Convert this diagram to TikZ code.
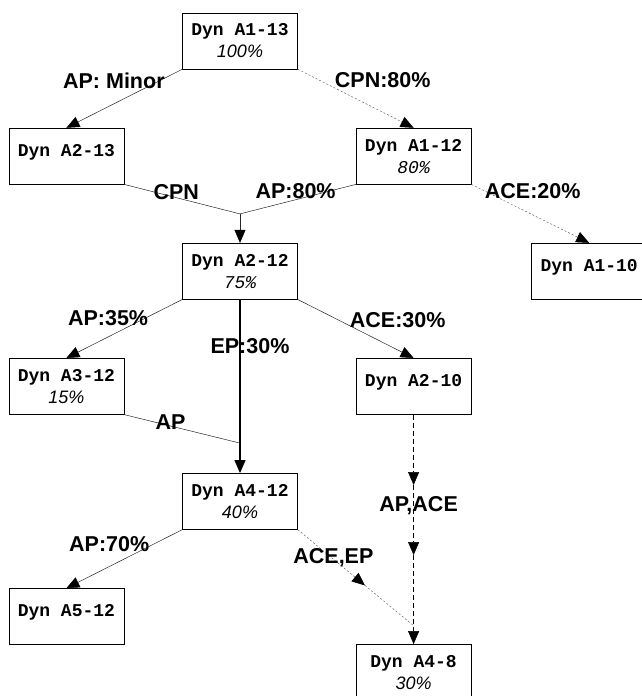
\documentclass[tikz,border=0pt]{standalone}
\usepackage{fontspec}
\setmainfont{Liberation Sans}
\setmonofont{Liberation Mono}
\usetikzlibrary{arrows.meta,positioning}

\newcommand{\share}[1]{{\normalfont\itshape #1}}
\newcommand{\sharett}[1]{{\mdseries\itshape #1}}

\begin{document}
\begin{tikzpicture}[
  node distance=58.5pt and 58pt,
  box/.style={
    draw,
    line width=0.6pt,
    align=center,
    minimum width=115pt,
    minimum height=56pt,
    inner sep=2pt,
    font=\ttfamily\bfseries\fontsize{18pt}{22pt}\selectfont
  },
  onebox/.style={box, text depth=12pt},
  tag/.style={text=black, font=\bfseries\fontsize{21.5pt}{24pt}\selectfont, inner sep=0pt},
  line/.style={-{Triangle[length=13pt,width=11pt,color=black]}, line width=0.5pt, black!85},
  fline/.style={line, dash pattern=on 2pt off 2pt, black!60},
  eline/.style={line, line width=1.2pt, black},
  dline/.style={line, dash pattern=on 5pt off 3pt, black}
]
\useasboundingbox (0,0) rectangle (642pt,-696pt);

% Dynorphin fragments
\node[box] (a113) at (240pt,-41pt) {Dyn A1-13\\\share{100\%}};

\node[onebox,below left=of a113] (a213) {Dyn A2-13};

\node[box,below right=of a113] (a112) {Dyn A1-12\\\sharett{80\%}};

\node[box,below right=of a213] (a212) {Dyn A2-12\\\sharett{75\%}};

\node[onebox,below right=58.5pt and 60pt of a112] (a110) {Dyn A1-10};

\node[box,below left=of a212] (a312) {Dyn A3-12\\\share{15\%}};

\node[onebox,below right=of a212] (a210) {Dyn A2-10};

\node[box,below right=of a312] (a412) {Dyn A4-12\\\share{40\%}};

\node[onebox,below left=of a412] (a512) {Dyn A5-12};

\node[box,below=229.5pt of a210] (a48) {Dyn A4-8\\\share{30\%}};

% Junction points
\coordinate (join1) at ([yshift=29pt]a212.north);
\coordinate (join2) at ([yshift=30pt]a412.north);
\path (a210) -- coordinate[pos=.307] (d1) coordinate[pos=.612] (d2) coordinate[pos=.92] (d3) (a48);
\path (a412.south east) -- coordinate[pos=.58] (e1) (d3);

% Cleavage steps
\draw[line] (a113.south west) -- node[tag,pos=.59,yshift=23.5pt] {AP: Minor} (a213.north);
\draw[fline] (a113.south east) -- node[tag,pos=.5,xshift=27pt,yshift=18pt] {CPN:80\%} (a112.north);
\draw[line,-] (a213.south east) -- node[tag,pos=.45,yshift=6pt] {CPN} (join1);
\draw[line,-] (a112.south west) -- node[tag,pos=.52,yshift=9pt] {AP:80\%} (join1);
\draw[line] (join1) -- (a212);
\draw[fline] (a112.south east) -- node[tag,pos=.52,yshift=24pt] {ACE:20\%} (a110.north);

\draw[line] (a212.south west) -- node[tag,pos=.64,yshift=18.5pt] {AP:35\%} (a312.north);
\draw[line] (a212.south east) -- node[tag,pos=.5,xshift=42pt,yshift=9pt] {ACE:30\%} (a210.north);
\draw[eline] (a212) -- node[tag,pos=.27,xshift=10pt] {EP:30\%} (a412);
\draw[line,-] (a312.south east) -- node[tag,pos=.4,yshift=4pt] {AP} (join2);

\draw[line] (a412.south west) -- node[tag,pos=.63,yshift=22pt] {AP:70\%} (a512.north);
\draw[fline] (a412.south east) -- node[tag,pos=.53,yshift=2pt] {ACE,EP} (e1);
\draw[fline,-] (e1) -- (d3);

\draw[dline] (a210) -- (d1);
\draw[dline] (d1) -- node[tag,pos=.29,xshift=5pt] {AP,ACE} (d2);
\draw[dline] (d2) -- (a48);

\end{tikzpicture}
\end{document}
